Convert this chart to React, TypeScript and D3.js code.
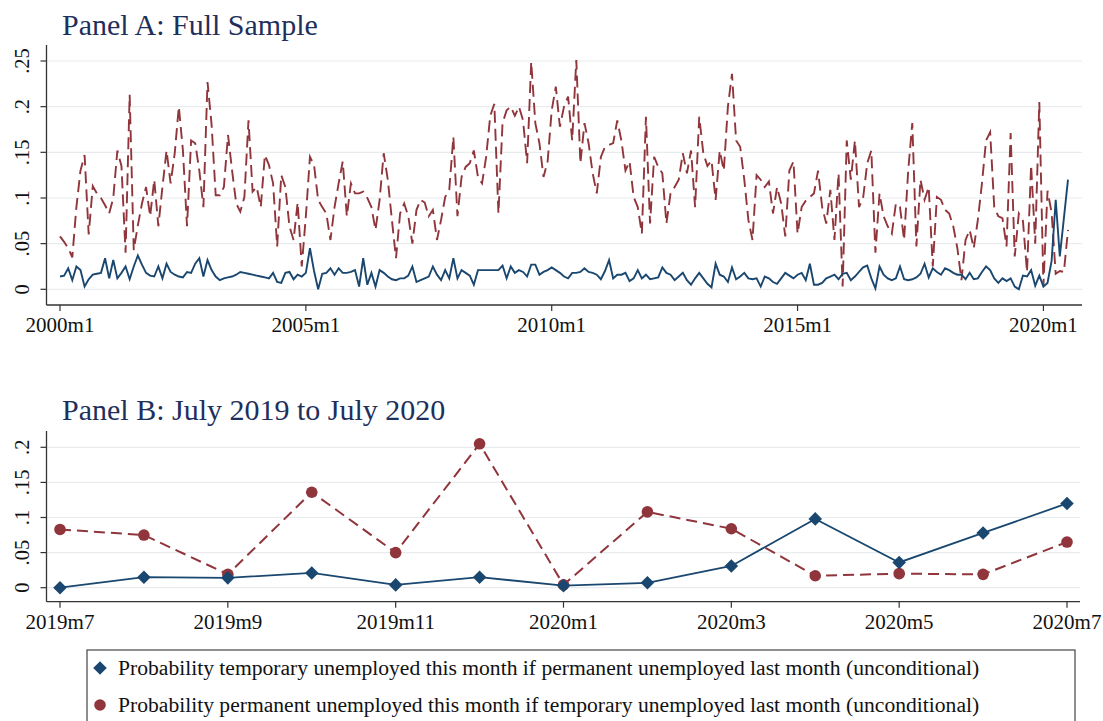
import React from 'react';
import * as d3 from 'd3';

const W = 1103;
const H = 721;

// monthly values, 2000m1 .. 2020m7 (247 months)
// temporary unemployed this month | permanent unemployed last month
const tempFromPerm = [
  0.014, 0.015, 0.023, 0.010, 0.025, 0.021, 0.003, 0.011, 0.016, 0.017, 0.018, 0.034,
  0.012, 0.032, 0.012, 0.018, 0.025, 0.011, 0.025, 0.037, 0.027, 0.018, 0.015, 0.014,
  0.025, 0.012, 0.028, 0.019, 0.016, 0.014, 0.013, 0.019, 0.018, 0.028, 0.034, 0.014,
  0.032, 0.021, 0.014, 0.010, 0.012, 0.013, 0.014, 0.016, 0.019, 0.018, 0.017, 0.016,
  0.015, 0.014, 0.013, 0.012, 0.018, 0.008, 0.007, 0.018, 0.019, 0.011, 0.016, 0.014,
  0.018, 0.045, 0.020, 0.000, 0.017, 0.018, 0.023, 0.016, 0.023, 0.018, 0.018, 0.019,
  0.021, 0.003, 0.034, 0.005, 0.018, 0.003, 0.021, 0.018, 0.014, 0.011, 0.010, 0.012,
  0.012, 0.015, 0.025, 0.008, 0.010, 0.012, 0.014, 0.025, 0.016, 0.010, 0.021, 0.012,
  0.034, 0.012, 0.021, 0.018, 0.015, 0.005, 0.021, 0.021, 0.021, 0.021, 0.021, 0.021,
  0.026, 0.012, 0.025, 0.018, 0.021, 0.019, 0.014, 0.027, 0.027, 0.016, 0.019, 0.021,
  0.024, 0.021, 0.018, 0.014, 0.012, 0.018, 0.018, 0.019, 0.023, 0.019, 0.018, 0.016,
  0.011, 0.020, 0.032, 0.012, 0.016, 0.016, 0.018, 0.009, 0.012, 0.021, 0.012, 0.016,
  0.011, 0.012, 0.013, 0.024, 0.018, 0.016, 0.010, 0.014, 0.018, 0.010, 0.005, 0.012,
  0.018, 0.012, 0.006, 0.002, 0.028, 0.016, 0.014, 0.008, 0.024, 0.011, 0.014, 0.018,
  0.012, 0.011, 0.012, 0.003, 0.014, 0.012, 0.008, 0.006, 0.012, 0.018, 0.015, 0.012,
  0.016, 0.018, 0.010, 0.028, 0.005, 0.005, 0.007, 0.012, 0.014, 0.016, 0.011, 0.017,
  0.018, 0.010, 0.014, 0.019, 0.024, 0.026, 0.012, 0.001, 0.025, 0.016, 0.012, 0.010,
  0.012, 0.025, 0.011, 0.010, 0.011, 0.013, 0.017, 0.028, 0.013, 0.023, 0.019, 0.016,
  0.023, 0.021, 0.018, 0.016, 0.016, 0.011, 0.018, 0.011, 0.012, 0.019, 0.025, 0.021,
  0.012, 0.007, 0.012, 0.009, 0.012, 0.003, 0.000, 0.015, 0.014, 0.021, 0.004, 0.015,
  0.003, 0.007, 0.031, 0.098, 0.036, 0.078, 0.120,
];

// permanent unemployed this month | temporary unemployed last month
const permFromTemp = [
  0.058, 0.052, 0.045, 0.035, 0.090, 0.130, 0.147, 0.060, 0.113, 0.105, 0.100, 0.092,
  0.083, 0.100, 0.152, 0.135, 0.040, 0.213, 0.043, 0.070, 0.094, 0.112, 0.080, 0.120,
  0.069, 0.112, 0.152, 0.116, 0.149, 0.200, 0.152, 0.069, 0.163, 0.160, 0.130, 0.090,
  0.227, 0.180, 0.103, 0.103, 0.112, 0.169, 0.130, 0.094, 0.085, 0.101, 0.185, 0.107,
  0.112, 0.090, 0.147, 0.136, 0.116, 0.047, 0.125, 0.112, 0.069, 0.054, 0.095, 0.025,
  0.080, 0.145, 0.136, 0.098, 0.090, 0.083, 0.054, 0.090, 0.116, 0.140, 0.080, 0.116,
  0.105, 0.105, 0.107, 0.100, 0.090, 0.065, 0.098, 0.149, 0.120, 0.076, 0.034, 0.083,
  0.094, 0.080, 0.050, 0.087, 0.098, 0.095, 0.080, 0.087, 0.054, 0.076, 0.101, 0.109,
  0.167, 0.080, 0.123, 0.134, 0.138, 0.152, 0.123, 0.116, 0.145, 0.190, 0.203, 0.083,
  0.182, 0.196, 0.200, 0.190, 0.200, 0.185, 0.138, 0.249, 0.182, 0.160, 0.123, 0.140,
  0.196, 0.222, 0.178, 0.200, 0.211, 0.163, 0.251, 0.138, 0.182, 0.160, 0.127, 0.105,
  0.145, 0.156, 0.158, 0.160, 0.185, 0.163, 0.130, 0.140, 0.101, 0.090, 0.061, 0.189,
  0.072, 0.145, 0.134, 0.127, 0.072, 0.105, 0.112, 0.120, 0.149, 0.127, 0.152, 0.090,
  0.189, 0.149, 0.135, 0.141, 0.098, 0.152, 0.130, 0.200, 0.236, 0.163, 0.156, 0.120,
  0.076, 0.054, 0.125, 0.120, 0.112, 0.118, 0.083, 0.112, 0.094, 0.058, 0.130, 0.140,
  0.061, 0.090, 0.097, 0.101, 0.105, 0.130, 0.090, 0.072, 0.109, 0.054, 0.127, 0.003,
  0.163, 0.120, 0.163, 0.090, 0.100, 0.138, 0.152, 0.040, 0.105, 0.080, 0.069, 0.061,
  0.094, 0.090, 0.054, 0.130, 0.182, 0.047, 0.120, 0.098, 0.112, 0.025, 0.101, 0.098,
  0.087, 0.083, 0.069, 0.045, 0.010, 0.054, 0.065, 0.045, 0.076, 0.116, 0.163, 0.172,
  0.090, 0.080, 0.078, 0.047, 0.171, 0.036, 0.083, 0.075, 0.019, 0.136, 0.050, 0.205,
  0.004, 0.108, 0.084, 0.017, 0.020, 0.019, 0.065,
];

const panelATickLabels = ['2000m1', '2005m1', '2010m1', '2015m1', '2020m1'];
const panelATickMonths = [0, 60, 120, 180, 240];
const panelAYTicks = [0, 0.05, 0.1, 0.15, 0.2, 0.25];

const panelBStart = 234; // 2019m7
const panelBTickLabels = ['2019m7', '2019m9', '2019m11', '2020m1', '2020m3', '2020m5', '2020m7'];
const panelBTickMonths = [0, 2, 4, 6, 8, 10, 12];
const panelBYTicks = [0, 0.05, 0.1, 0.15, 0.2];

const legendLabels = [
  'Probability temporary unemployed this month if permanent unemployed last month (unconditional)',
  'Probability permanent unemployed this month if temporary unemployed last month (unconditional)',
];

const BLUE = '#1a476f';
const RED = '#90353b';
const TITLE = '#1f2f5c';
const FONT = '"Liberation Serif", "DejaVu Serif", serif';

const fmtY = (v: number) => (v === 0 ? '0' : String(v).replace(/^0/, ''));

interface AxesProps {
  x: d3.ScaleLinear<number, number>;
  y: d3.ScaleLinear<number, number>;
  yTicks: number[];
  tickMonths: number[];
  tickLabels: string[];
  left: number;
  right: number;
  top: number;
  bottom: number;
}

const Axes: React.FC<AxesProps> = ({ x, y, yTicks, tickMonths, tickLabels, left, right, top, bottom }) => (
  <g>
    {yTicks.map(t => (
      <g key={t}>
        <line x1={left + 1} x2={right} y1={y(t)} y2={y(t)} stroke="#e9ecee" strokeWidth={1.2} />
        <line x1={left - 6} x2={left} y1={y(t)} y2={y(t)} stroke="#333" strokeWidth={1.2} />
        <text
          transform={`translate(${left - 18},${y(t)}) rotate(-90)`}
          textAnchor="middle"
          fontSize={20.5}
          fontFamily={FONT}
          fill="#111"
        >
          {fmtY(t)}
        </text>
      </g>
    ))}
    <line x1={left} x2={left} y1={top} y2={bottom} stroke="#333" strokeWidth={1.3} />
    <line x1={left} x2={right} y1={bottom} y2={bottom} stroke="#333" strokeWidth={1.3} />
    {tickMonths.map((m, i) => (
      <g key={m}>
        <line x1={x(m)} x2={x(m)} y1={bottom} y2={bottom + 6} stroke="#333" strokeWidth={1.2} />
        <text x={x(m)} y={bottom + 27} textAnchor="middle" fontSize={21} fontFamily={FONT} fill="#111">
          {tickLabels[i]}
        </text>
      </g>
    ))}
  </g>
);

const App: React.FC = () => {
  // Panel A
  const xA = d3.scaleLinear().domain([0, tempFromPerm.length - 1]).range([60, 1068]);
  const yA = d3.scaleLinear().domain([0, 0.25]).range([289.3, 61]);
  const lineA = d3.line<number>().x((_, i) => xA(i)).y(d => yA(d));

  // Panel B
  const bBlue = tempFromPerm.slice(panelBStart);
  const bRed = permFromTemp.slice(panelBStart);
  const xB = d3.scaleLinear().domain([0, 12]).range([60, 1067]);
  const yB = d3.scaleLinear().domain([0, 0.2]).range([587.7, 447.3]);
  const lineB = d3.line<number>().x((_, i) => xB(i)).y(d => yB(d));

  const diamond = d3.symbol().type(d3.symbolSquare).size(92)() || '';

  return (
    <svg
      width={W}
      height={H}
      viewBox={`0 0 ${W} ${H}`}
      style={{ position: 'absolute', left: 0, top: 0, background: '#fff' }}
    >
      <rect width={W} height={H} fill="#fff" />

      {/* Panel A */}
      <text x={62} y={35} fontSize={30} fontFamily={FONT} fill={TITLE}>Panel A: Full Sample</text>
      <Axes
        x={xA} y={yA} yTicks={panelAYTicks}
        tickMonths={panelATickMonths} tickLabels={panelATickLabels}
        left={46.5} right={1082} top={45} bottom={305}
      />
      <path d={lineA(permFromTemp) || ''} fill="none" stroke={RED} strokeWidth={1.9} strokeDasharray="12,6" />
      <path d={lineA(tempFromPerm) || ''} fill="none" stroke={BLUE} strokeWidth={1.9} />

      {/* Panel B */}
      <text x={62} y={420} fontSize={30} fontFamily={FONT} fill={TITLE}>Panel B: July 2019 to July 2020</text>
      <Axes
        x={xB} y={yB} yTicks={panelBYTicks}
        tickMonths={panelBTickMonths} tickLabels={panelBTickLabels}
        left={46.5} right={1080} top={431} bottom={601.7}
      />
      <path d={lineB(bRed) || ''} fill="none" stroke={RED} strokeWidth={2} strokeDasharray="11,6" />
      <path d={lineB(bBlue) || ''} fill="none" stroke={BLUE} strokeWidth={1.8} />
      {bRed.map((d, i) => (
        <circle key={`r${i}`} cx={xB(i)} cy={yB(d)} r={5.8} fill={RED} />
      ))}
      {bBlue.map((d, i) => (
        <path key={`b${i}`} d={diamond} transform={`translate(${xB(i)},${yB(d)}) rotate(45)`} fill={BLUE} />
      ))}

      {/* Legend */}
      <rect x={87} y={650} width={988} height={90} fill="#fff" stroke="#444" strokeWidth={1.2} />
      <path d={diamond} transform="translate(100,668) rotate(45)" fill={BLUE} />
      <text x={118} y={675} fontSize={21.6} fontFamily={FONT} fill="#111">{legendLabels[0]}</text>
      <circle cx={100} cy={705} r={5.8} fill={RED} />
      <text x={118} y={712} fontSize={21.6} fontFamily={FONT} fill="#111">{legendLabels[1]}</text>
    </svg>
  );
};

export default App;
